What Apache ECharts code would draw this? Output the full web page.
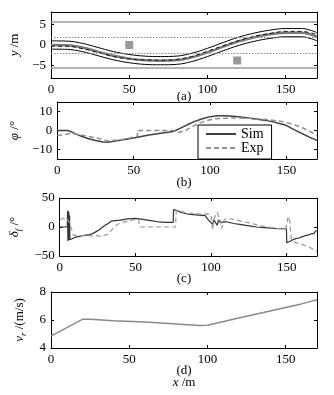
<!DOCTYPE html>
<html><head><meta charset="utf-8">
<script src="https://cdn.jsdelivr.net/npm/echarts@6/dist/echarts.min.js"></script>
<style>html,body{margin:0;padding:0;background:#fff}#c{width:334px;height:395px}</style>
</head><body><div id="c"></div>
<script>
// ---------- data ----------
const xTicks = [0, 50, 100, 150];
const aTicks = [-5, 0, 5];
const bTicks = [-10, 0, 10];
const roadEdges = [5.625, -5.625];
const laneLines = [1.875, -1.875];
const obstacleX = [50, 119];
const obstacleY = [0, -3.75];

// (a) trajectory
const aX     = [0, 10, 20, 30, 40, 50, 60, 70, 80, 90, 100, 110, 120, 130, 140, 150, 160, 170];
const aSim   = [0, -0.05, -0.6, -1.6, -2.6, -3.3, -3.7, -3.8, -3.7, -3.0, -1.8, -0.4, 0.9, 1.9, 2.6, 3.0, 3.0, 2.0];
const aExp   = [-0.3, -0.3, -0.9, -1.8, -2.8, -3.4, -3.6, -3.7, -3.5, -2.8, -1.5, -0.2, 1.1, 2.1, 2.8, 3.3, 3.3, 2.5];
const aUpper = [1.0, 0.95, 0.4, -0.6, -1.6, -2.3, -2.7, -2.8, -2.7, -2.0, -0.8, 0.6, 1.9, 2.9, 3.6, 4.0, 4.0, 3.0];
const aLower = [-1.0, -1.05, -1.6, -2.6, -3.6, -4.3, -4.7, -4.8, -4.7, -4.0, -2.8, -1.4, -0.1, 0.9, 1.6, 2.0, 2.0, 1.0];

// (b) heading angle
const bSimX = [0, 7, 10, 15, 20, 25, 30, 33, 40, 50, 60, 70, 76, 80, 85, 90, 95, 100, 105, 110, 115, 120, 130, 140, 148, 150, 155, 160, 165, 170];
const bSimY = [0, 0, -1, -2.8, -4.2, -5.3, -6.1, -6.2, -5.3, -3.9, -2.4, -1.2, -0.5, 1, 3, 4.8, 6.2, 7.3, 7.7, 7.7, 7.5, 7.1, 6, 4.8, 3.2, 2.6, 0.5, -1.5, -3.5, -5.2];
const bExpX = [0, 5, 8, 12, 20, 28, 33, 40, 45, 50, 52.5, 52.5, 60, 70, 76, 79, 83, 87, 92, 97, 102, 108, 115, 125, 135, 145, 150, 155, 160, 165, 170];
const bExpY = [-2.5, -2.2, -1.6, -1.9, -3, -4.3, -5.5, -5, -4.4, -3.5, -3, 0, 0, 0, 0, -0.9, -0.5, 1.5, 3.5, 5, 6.1, 6.4, 6.6, 6.4, 5.9, 5, 4.3, 3.1, 1.6, -0.4, -2.5];

// (c) steering angle
const cSimX = [0, 5, 5.2, 5.4, 5.6, 5.8, 6, 6.2, 6.5, 6.7, 7.5, 10, 15, 20, 22, 24, 25, 26, 27, 28, 29, 30, 31, 32, 33, 34, 35, 40, 45, 50, 55, 60, 65, 70, 75, 75.2, 78, 80, 85, 90, 94, 95, 96, 97, 98, 99, 100, 101, 102, 103, 104, 105, 106, 107, 110, 115, 120, 125, 130, 135, 140, 145, 149.8, 150, 152, 154, 156, 158, 160, 162, 164, 166, 167, 168, 169, 170];
const cSimY = [0, 0, 28, -24, 27, -23, 26, -22, 20, -22, -21, -18, -15, -13, -11, -8, -7, -5, -4, -1, 1, 3, 2, 6, 8, 10, 11, 12, 14, 15, 13, 11, 9, 8, 8, 30, 28, 25, 22, 21, 20, 17, 20, 16, 15, 10, 13, 5, 12, 10, 3, 12, 8, 11, 9, 6, 4, 2, 0, -1, -2, -3, -3, -27, -25, -22, -20, -19, -17, -15, -14, -12, -9, -11, -7, -6];
const cExpX = [0, 4, 5, 6, 7, 8, 9, 10, 15, 20, 25, 28, 30, 32, 34, 36, 38, 40, 45, 50, 52, 53, 60, 70, 76.5, 77, 80, 85, 90, 95, 98, 100, 101, 102, 103, 104, 105, 106, 107, 108, 110, 115, 120, 125, 130, 135, 140, 145, 149, 150, 151, 152, 153, 155, 160, 165, 170];
const cExpY = [13, 16, 18, 10, 12, -5, -14, -16, -15, -15, -15, -17, -14, -12, -6, 0, 4, 7, 10, 13, 13, 0, 0, 0, 0, 28, 27, 24, 23, 22, 23, 20, -5, 15, 20, 25, 28, 12, -3, 10, 15, 13, 10, 7, 4, 1, -1, -3, -3, 5, 18, 10, -20, -26, -30, -35, -42];

// (d) speed
const dX = [0, 20, 25, 40, 60, 80, 95, 100, 120, 140, 160, 170];
const dY = [4.85, 6.05, 6.05, 5.95, 5.85, 5.72, 5.6, 5.62, 6.15, 6.65, 7.15, 7.45];

// ---------- chart ----------
const FONT = 'Liberation Serif';
const FS = 13;
const zip = (xs, ys) => xs.map((x, i) => [x, ys[i]]);
const minus = v => String(v).replace('-', '\u2212');

const grids = [
  {left: 51, right: 17, top: 12, height: 66},
  {left: 51, right: 17, top: 102, height: 57},
  {left: 51, right: 17, top: 198, height: 58},
  {left: 51, right: 17, top: 292, height: 56}
];
const yRanges = [
  {min: -8, max: 8, ticks: aTicks},
  {min: -15, max: 15, ticks: bTicks},
  {min: -50, max: 50, interval: 50},
  {min: 4, max: 8, interval: 2}
];
const yNames = [
  {name: '{i|y}{n| /m}', gap: 27},
  {name: '{i|\u03c6}{n| /\u00b0}', gap: 29},
  {name: '{i|\u03b4}{s|f}{n| /\u00b0}', gap: 29},
  {name: '{i|v}{s|r}{n| /(m/s)}', gap: 22}
];
const rich = {
  i: {fontFamily: FONT, fontSize: FS, fontStyle: 'italic', lineHeight: 18, verticalAlign: 'middle', color: '#000'},
  n: {fontFamily: FONT, fontSize: FS, lineHeight: 18, verticalAlign: 'middle', color: '#000'},
  s: {fontFamily: FONT, fontSize: 9, fontStyle: 'italic', verticalAlign: 'bottom', color: '#000'}
};
const lineAx = {show: true, onZero: false, lineStyle: {color: '#000', width: 1}};
const tickAx = {show: true, inside: true, length: 3, lineStyle: {color: '#000', width: 1}};
const xFmt = v => (xTicks.indexOf(v) >= 0 ? String(v) : '');

const xAxis = [], yAxis = [];
grids.forEach((g, i) => {
  xAxis.push({
    type: 'value', gridIndex: i, min: 0, max: 170, interval: 50, position: 'bottom',
    axisLine: lineAx, axisTick: Object.assign({}, tickAx, {customValues: xTicks}), splitLine: {show: false},
    axisLabel: {show: true, margin: 5, fontFamily: FONT, fontSize: FS, color: '#000', formatter: xFmt, hideOverlap: false}
  });
  xAxis.push({
    type: 'value', gridIndex: i, min: 0, max: 170, interval: 50, position: 'top',
    axisLine: lineAx, axisTick: Object.assign({}, tickAx, {customValues: xTicks}),
    axisLabel: {show: false}, splitLine: {show: false}
  });
  const r = yRanges[i];
  const base = {type: 'value', gridIndex: i, min: r.min, max: r.max, splitLine: {show: false}, axisLine: lineAx};
  if (r.interval) base.interval = r.interval;
  const yl = Object.assign({}, base, {
    position: 'left',
    axisTick: r.ticks ? Object.assign({}, tickAx, {customValues: r.ticks}) : tickAx,
    axisLabel: Object.assign({show: true, margin: 5, fontFamily: FONT, fontSize: FS, color: '#000', formatter: minus},
      r.ticks ? {customValues: r.ticks} : {}),
    name: yNames[i].name, nameLocation: 'middle', nameRotate: 90, nameGap: yNames[i].gap,
    nameTextStyle: {fontFamily: FONT, fontSize: FS, color: '#000', rich: rich}
  });
  const yr = Object.assign({}, base, {
    position: 'right',
    axisTick: r.ticks ? Object.assign({}, tickAx, {customValues: r.ticks}) : tickAx,
    axisLabel: {show: false}
  });
  yAxis.push(yl, yr);
});

const mk = (name, gi, data, color, width, type, extra) => Object.assign({
  name: name, type: 'line', xAxisIndex: gi * 2, yAxisIndex: gi * 2, data: data,
  showSymbol: false, symbol: 'none', silent: true, animation: false,
  lineStyle: {color: color, width: width, type: type || 'solid'}, itemStyle: {color: color}
}, extra || {});

const series = [
  // (a)
  mk('aRoad', 0, [], '#999', 1, 'solid', {
    markLine: {silent: true, symbol: 'none', animation: false, label: {show: false},
      data: roadEdges.map(v => ({yAxis: v, lineStyle: {color: '#9a9a9a', width: 1.6, type: 'solid'}}))
        .concat(laneLines.map(v => ({yAxis: v, lineStyle: {color: '#8a8a8a', width: 1, type: [1.5, 1.5]}})))}
  }),
  mk('aUpper', 0, zip(aX, aUpper), '#000', 1, 'solid', {smooth: 0.4}),
  mk('aLower', 0, zip(aX, aLower), '#000', 1, 'solid', {smooth: 0.4}),
  mk('aSim', 0, zip(aX, aSim), '#7a7a7a', 2.5, 'solid', {smooth: 0.4}),
  mk('aExp', 0, zip(aX, aExp), '#111', 1, [4, 3], {smooth: 0.4}),
  {name: 'obstacle', type: 'scatter', xAxisIndex: 0, yAxisIndex: 0, data: zip(obstacleX, obstacleY),
    symbol: 'rect', symbolSize: 8, itemStyle: {color: '#808080'}, silent: true, animation: false},
  // (b)
  mk('Sim', 1, zip(bSimX, bSimY), '#404040', 1.5, 'solid'),
  mk('Exp', 1, zip(bExpX, bExpY), '#909090', 1.5, [5, 3]),
  // (c)
  mk('cSim', 2, zip(cSimX, cSimY), '#333', 1.2, 'solid'),
  mk('cExp', 2, zip(cExpX, cExpY), '#9a9a9a', 1.2, [5, 3]),
  // (d)
  mk('vr', 3, zip(dX, dY), '#8a8a8a', 1.5, 'solid')
];

const cx = 51 + 266 / 2;
const cap = (t, y) => ({type: 'text', x: cx, y: y, silent: true,
  style: {text: t, fontFamily: FONT, fontSize: FS, fill: '#000', align: 'center', verticalAlign: 'middle'}});

const option = {
  animation: false,
  backgroundColor: '#fff',
  grid: grids.map(g => Object.assign({show: false}, g)),
  xAxis: xAxis, yAxis: yAxis, series: series,
  legend: {
    data: ['Sim', 'Exp'], orient: 'vertical', left: 198, top: 125,
    itemWidth: 30, itemHeight: 14, itemGap: 0, padding: [2, 8, 4, 7],
    backgroundColor: '#fff', borderColor: '#000', borderWidth: 1, borderRadius: 0,
    selectedMode: false,
    itemStyle: {opacity: 0},
    textStyle: {fontFamily: FONT, fontSize: 14, color: '#000', padding: [0, 0, 0, 0]}
  },
  graphic: [
    cap('(a)', 97), cap('(b)', 183), cap('(c)', 279), cap('(d)', 371),
    {type: 'text', x: cx, y: 383, silent: true,
      style: {text: '{i|x}{n| /m}', rich: rich, fontFamily: FONT, fontSize: FS, fill: '#000', align: 'center', verticalAlign: 'middle'}}
  ]
};
const chart = echarts.init(document.getElementById('c'), null, {renderer: 'canvas'});
chart.setOption(option);
</script></body></html>
